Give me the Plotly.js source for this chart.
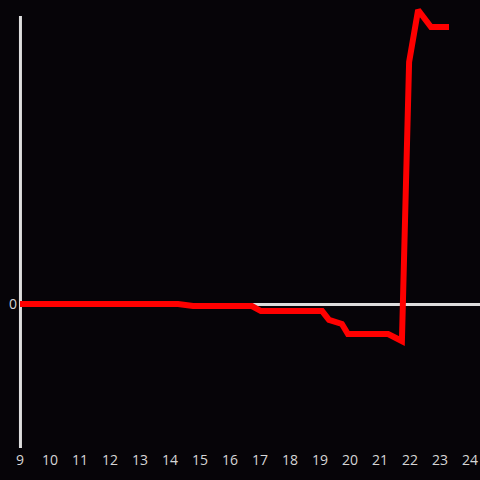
<!DOCTYPE html>
<html>
<head>
<meta charset="utf-8">
<script src="https://cdn.plot.ly/plotly-3.0.1.min.js"></script>
<style>
html,body{margin:0;padding:0;background:#060408;}
#chart{width:480px;height:480px;}
</style>
</head>
<body>
<div id="chart"></div>
<script>
const xValues = [9.0, 14.27, 14.77, 16.73, 17.03, 19.07, 19.3, 19.73, 19.93, 21.27, 21.73, 21.97, 22.27, 22.7, 23.3];
const yValues = [0, 0, -0.7, -0.7, -2.4, -2.4, -5.4, -6.8, -10.2, -10.2, -12.6, 82.3, 100, 94.2, 94.2];
const xTicks = [9,10,11,12,13,14,15,16,17,18,19,20,21,22,23,24];
const yTicks = [0];

const trace = {
  x: xValues, y: yValues, type: 'scatter', mode: 'lines',
  line: {color: '#ff0000', width: 6, shape: 'linear'},
  hoverinfo: 'skip'
};

const layout = {
  width: 480, height: 480,
  paper_bgcolor: '#060408', plot_bgcolor: '#060408',
  margin: {l: 20, r: 0, t: 0, b: 32},
  showlegend: false,
  font: {family: 'Open Sans, Liberation Sans, sans-serif', size: 14, color: '#d6d6d6'},
  xaxis: {
    range: [9, 24.333], tickvals: xTicks, ticktext: xTicks.map(String),
    showgrid: false, zeroline: false, showline: false, ticks: '',
    ticklabelstandoff: 2,
    tickfont: {size: 14, color: '#d6d6d6'}
  },
  yaxis: {
    range: [-48.98, 103.4], tickvals: yTicks, ticktext: yTicks.map(String),
    showgrid: false, zeroline: true, zerolinecolor: '#dddddd', zerolinewidth: 3,
    showline: false, ticks: '', ticklabelstandoff: 2,
    tickfont: {size: 14, color: '#d6d6d6'}
  },
  shapes: [{
    type: 'line', layer: 'below', xref: 'paper', yref: 'paper',
    x0: 0.001, x1: 0.001, y0: 0, y1: 0.9643,
    line: {color: '#dddddd', width: 3}
  }]
};

Plotly.newPlot('chart', [trace], layout, {displayModeBar: false, staticPlot: true});
</script>
</body>
</html>
